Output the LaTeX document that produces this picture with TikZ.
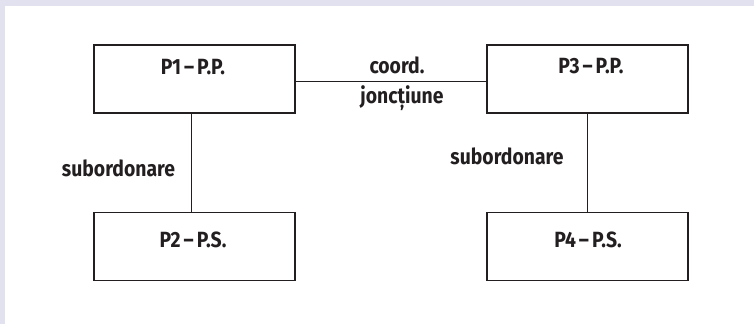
\documentclass[tikz,border=0pt]{standalone}
\usepackage{fontspec}
\setmainfont[FakeStretch=0.88]{Fira Sans}
\definecolor{lav}{HTML}{E1E1F0}
\definecolor{ink}{HTML}{231F20}
\begin{document}
\begin{tikzpicture}[x=1pt,y=-1pt,
  box/.style={draw=ink, line width=1.1pt, minimum width=201pt, minimum height=68pt, inner sep=0pt},
  txt/.style={font=\bfseries\fontsize{22}{26}\selectfont, text=ink, inner sep=0pt, anchor=base},
  conn/.style={draw=ink, line width=0.9pt}]
\fill[lav] (0,0) rectangle (754,324);
\fill[white] (5,6) rectangle (754,324);
\useasboundingbox (0,0) rectangle (754,324);
\node[box] (p1) at (194.5,79) {};
\node[box] (p3) at (587.5,79) {};
\node[box] (p2) at (194.5,246.5) {};
\node[box] (p4) at (587.5,246.5) {};
\node[txt] (t1) at (193,74.5) {P1\kern3pt–\kern3pt P.P.};
\node[txt] (t3) at (591,73.5) {P3\kern3pt–\kern3pt P.P.};
\node[txt] (t2) at (193,247) {P2\kern3pt–\kern3pt P.S.};
\node[txt] (t4) at (588,247) {P4\kern3pt–\kern3pt P.S.};
\coordinate (h1) at (p1.east |- 0,81.5);
\coordinate (h3) at (p3.west |- 0,81.5);
\draw[conn] (h1) -- (h3);
\coordinate (v1) at (p1.south -| 191,0);
\coordinate (v2) at (p2.north -| 191,0);
\draw[conn] (v1) -- (v2);
\draw[conn] (p3.south) -- (p4.north);
\node[txt] (c1) at (397,73) {coord.};
\node[txt] (c2) at (402,103) {joncțiune};
\node[txt] (s1) at (118.5,176) {subordonare};
\node[txt] (s2) at (507,164) {subordonare};
\end{tikzpicture}
\end{document}
